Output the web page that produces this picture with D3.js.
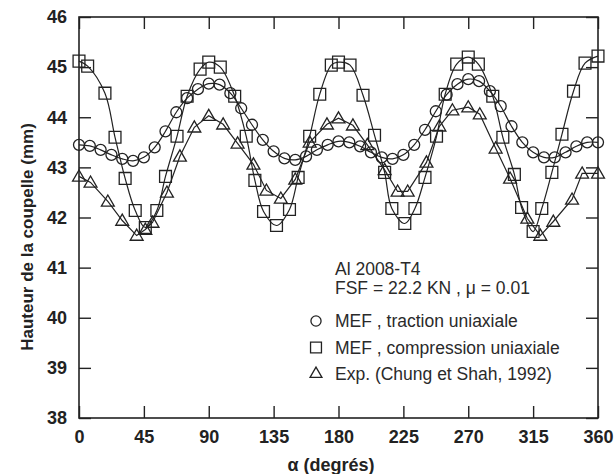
<!DOCTYPE html>
<html lang="fr">
<head>
<meta charset="UTF-8"/>
<title>Hauteur de la coupelle</title>
<script src="https://d3js.org/d3.v7.min.js"></script>
<style>
  body { margin: 0; background: #fff; }
  svg { font-family: "Liberation Sans", Arial, sans-serif; }
</style>
</head>
<body>
<script>
    // tick labels
    var xTicks = [0, 45, 90, 135, 180, 225, 270, 315, 360];
    var yTicks = [38, 39, 40, 41, 42, 43, 44, 45, 46];

    // MEF, traction uniaxiale (circles)
    var tracAngles = [0, 7.5, 15, 22.5, 30, 37.5, 45, 52.5, 60, 67.5, 75, 82.5, 90, 97.5, 105, 112.5, 120, 127.5, 135, 142.5, 150, 157.5, 165, 172.5, 180, 187.5, 195, 202.5, 210, 217.5, 225, 232.5, 240, 247.5, 255, 262.5, 270, 277.5, 285, 292.5, 300, 307.5, 315, 322.5, 330, 337.5, 345, 352.5, 360];
    var tracValues = [43.45, 43.43, 43.35, 43.25, 43.17, 43.13, 43.2, 43.4, 43.72, 44.1, 44.38, 44.56, 44.67, 44.65, 44.48, 44.18, 43.85, 43.55, 43.32, 43.18, 43.15, 43.22, 43.35, 43.45, 43.52, 43.5, 43.42, 43.3, 43.2, 43.17, 43.25, 43.45, 43.75, 44.12, 44.45, 44.66, 44.76, 44.72, 44.52, 44.22, 43.82, 43.5, 43.3, 43.2, 43.2, 43.3, 43.42, 43.5, 43.5];

    // MEF, compression uniaxiale (squares)
    var compAngles = [0, 6, 18, 25, 32, 39, 46, 54, 60, 68, 75, 84, 90, 98, 108, 116, 122, 128, 137, 146, 152, 160, 167, 175, 180, 188, 197, 205, 212, 217, 226, 233, 240, 248, 254, 262, 270, 277, 287, 294, 302, 307, 315, 321, 328, 335, 343, 351, 360];
    var compValues = [45.12, 45.02, 44.48, 43.6, 42.78, 42.14, 41.8, 42.14, 42.82, 43.62, 44.42, 44.96, 45.1, 45.0, 44.42, 43.62, 42.74, 42.12, 41.84, 42.16, 42.8, 43.62, 44.46, 45.04, 45.1, 45.04, 44.44, 43.64, 42.9, 42.18, 41.88, 42.18, 42.8, 43.62, 44.46, 45.06, 45.2, 45.06, 44.42, 43.6, 42.86, 42.2, 41.72, 42.18, 42.9, 43.66, 44.52, 45.08, 45.22];

    // Exp. (Chung et Shah, 1992) (triangles)
    var expAngles = [0, 8, 20, 30, 40, 46, 51, 61, 70, 80, 90, 100, 110, 121, 130, 140, 150, 160, 172, 180, 190, 200, 212, 221, 228, 241, 250, 259, 270, 278, 289, 299, 311, 320, 329, 342, 349, 360];
    var expValues = [42.82, 42.7, 42.32, 41.94, 41.64, 41.76, 41.9, 42.5, 43.22, 43.8, 44.03, 43.86, 43.48, 43.06, 42.54, 42.38, 42.76, 43.5, 43.86, 43.98, 43.84, 43.45, 42.95, 42.52, 42.52, 43.1, 43.82, 44.14, 44.2, 44.06, 43.38, 42.78, 41.98, 41.64, 41.92, 42.36, 42.88, 42.88];

    var legendNotes = ["Al 2008-T4", "FSF = 22.2 KN , \u03bc = 0.01"];
    var legendLabels = ["MEF , traction uniaxiale", "MEF , compression uniaxiale", "Exp. (Chung et Shah, 1992)"];

    var w = 614;
    var h = 474;
    var plotL = 79, plotR = 598, plotT = 17, plotB = 418;
    var ink = "#222";

    var xScale = d3.scaleLinear().domain([0, 360]).range([plotL, plotR]);
    var yScale = d3.scaleLinear().domain([38, 46]).range([plotB, plotT]);

    var svg = d3.select("body").append("svg")
        .attr("width", w)
        .attr("height", h);

    svg.append("rect").attr("width", w).attr("height", h).attr("fill", "#fff");

    // axes, ticks pointing inward on all four sides
    var xAxis = d3.axisBottom(xScale).tickValues(xTicks).tickSizeInner(-12).tickSizeOuter(0).tickPadding(12);
    var yAxis = d3.axisLeft(yScale).tickValues(yTicks).tickSizeInner(-12).tickSizeOuter(0).tickPadding(12);
    var xTop = d3.axisTop(xScale).tickValues(xTicks).tickSizeInner(-12).tickSizeOuter(0).tickFormat("");
    var yRight = d3.axisRight(yScale).tickValues(yTicks).tickSizeInner(-12).tickSizeOuter(0).tickFormat("");

    var gx = svg.append("g").attr("transform", "translate(0," + plotB + ")").call(xAxis);
    var gy = svg.append("g").attr("transform", "translate(" + plotL + ",0)").call(yAxis);
    var gt = svg.append("g").attr("transform", "translate(0," + plotT + ")").call(xTop);
    var gr = svg.append("g").attr("transform", "translate(" + plotR + ",0)").call(yRight);

    [gx, gy, gt, gr].forEach(function(g) {
        g.select(".domain").remove();
        g.selectAll(".tick line").attr("stroke", ink).attr("stroke-width", 1.4);
        g.selectAll(".tick text")
            .attr("fill", ink)
            .attr("font-size", "18px")
            .attr("font-weight", "bold")
            .attr("font-family", "'Liberation Sans', Arial, sans-serif");
    });

    // frame
    svg.append("rect")
        .attr("x", plotL).attr("y", plotT)
        .attr("width", plotR - plotL).attr("height", plotB - plotT)
        .attr("fill", "none").attr("stroke", ink).attr("stroke-width", 1.6);

    // axis titles
    svg.append("text")
        .attr("x", 331).attr("y", 471)
        .attr("text-anchor", "middle")
        .attr("font-size", "18px").attr("font-weight", "bold")
        .attr("fill", ink)
        .text("\u03b1 (degr\u00e9s)");

    svg.append("text")
        .attr("transform", "rotate(-90)")
        .attr("x", -237).attr("y", 33)
        .attr("text-anchor", "middle")
        .attr("font-size", "17px").attr("font-weight", "bold")
        .attr("fill", ink)
        .text("Hauteur de la coupelle (mm)");

    // series
    var series = [
        { angles: tracAngles, values: tracValues, shape: d3.symbolCircle, size: 95, curve: d3.curveCatmullRom },
        { angles: compAngles, values: compValues, shape: d3.symbolSquare, size: 140, curve: d3.curveCatmullRom },
        { angles: expAngles, values: expValues, shape: d3.symbolTriangle, size: 72, curve: d3.curveLinear }
    ];

    series.forEach(function(s) {
        var pts = s.angles.map(function(a, i) { return [a, s.values[i]]; });

        var line = d3.line()
            .x(function(d) { return xScale(d[0]); })
            .y(function(d) { return yScale(d[1]); })
            .curve(s.curve);

        svg.append("path")
            .datum(pts)
            .attr("d", line)
            .attr("fill", "none")
            .attr("stroke", ink)
            .attr("stroke-width", 1.2);

        svg.append("g").selectAll("path")
            .data(pts)
            .enter()
            .append("path")
            .attr("d", d3.symbol().type(s.shape).size(s.size))
            .attr("transform", function(d) {
                var dy = s.shape === d3.symbolTriangle ? 1 : 0;
                return "translate(" + xScale(d[0]) + "," + (yScale(d[1]) + dy) + ")";
            })
            .attr("fill", "none")
            .attr("stroke", ink)
            .attr("stroke-width", 1.3);
    });

    // legend
    var legend = svg.append("g").attr("font-size", "17.5px").attr("fill", "#2a2a2a");

    legend.selectAll("text.note")
        .data(legendNotes)
        .enter()
        .append("text")
        .attr("class", "note")
        .attr("x", 335)
        .attr("y", function(d, i) { return 275 + i * 19; })
        .text(function(d) { return d; });

    legend.selectAll("text.entry")
        .data(legendLabels)
        .enter()
        .append("text")
        .attr("class", "entry")
        .attr("x", 335)
        .attr("y", function(d, i) { return 327 + i * 26.5; })
        .text(function(d) { return d; });

    legend.selectAll("path")
        .data(series)
        .enter()
        .append("path")
        .attr("d", function(s) { return d3.symbol().type(s.shape).size(s.size * 0.85)(); })
        .attr("transform", function(s, i) { return "translate(316," + (321 + i * 26.5) + ")"; })
        .attr("fill", "none")
        .attr("stroke", ink)
        .attr("stroke-width", 1.3);
</script>
</body>
</html>
